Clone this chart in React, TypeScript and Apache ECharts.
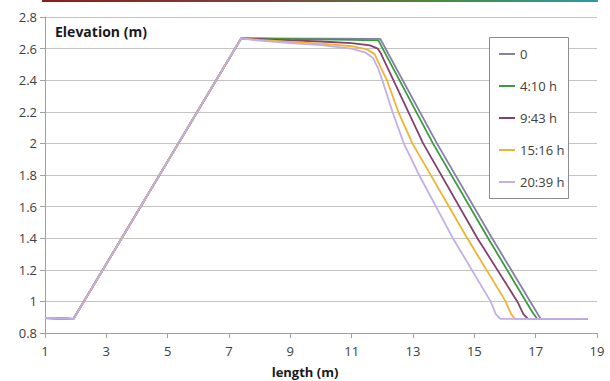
import React, { useEffect, useRef } from "react";
import * as echarts from "echarts";

const seriesNames = ["0", "4:10 h", "9:43 h", "15:16 h", "20:39 h"];
const seriesColors = ["#8282a6", "#3f9a3f", "#86406f", "#f0b432", "#c4aee8"];

const x0 = [1, 1.93, 7.4, 11.93, 13.78, 15.58, 17.16, 18.7];
const y0 = [0.895, 0.89, 2.665, 2.662, 2.0, 1.4, 0.89, 0.89];

const x1 = [1, 1.93, 7.4, 8.5, 10, 11.87, 13.65, 15.45, 16.9, 17.05, 18.7];
const y1 = [0.895, 0.89, 2.665, 2.662, 2.658, 2.652, 2.0, 1.4, 0.93, 0.89, 0.89];

const x2 = [1, 1.93, 7.4, 8, 9, 10, 11, 11.6, 11.85, 11.95, 13.33, 15.1, 16.4, 16.6, 16.75, 18.7];
const y2 = [0.895, 0.89, 2.665, 2.66, 2.652, 2.645, 2.635, 2.62, 2.6, 2.57, 2.0, 1.4, 1.0, 0.92, 0.89, 0.89];

const x3 = [1, 1.93, 7.4, 8, 9, 10, 11, 11.5, 11.75, 11.95, 12.15, 12.52, 12.98, 14.77, 16.02, 16.2, 16.32, 18.7];
const y3 = [0.895, 0.89, 2.665, 2.655, 2.642, 2.632, 2.615, 2.595, 2.565, 2.48, 2.4, 2.2, 2.0, 1.4, 1.0, 0.92, 0.89, 0.89];

const x4 = [1, 1.93, 7.4, 8, 9, 10, 11, 11.45, 11.7, 11.85, 12.0, 12.33, 12.7, 13.2, 14.3, 15.53, 15.7, 15.85, 18.7];
const y4 = [0.895, 0.89, 2.665, 2.65, 2.635, 2.622, 2.6, 2.575, 2.54, 2.48, 2.4, 2.2, 2.0, 1.8, 1.4, 1.0, 0.92, 0.89, 0.89];

const allX = [x0, x1, x2, x3, x4];
const allY = [y0, y1, y2, y3, y4];

const FONT = "Open Sans";

export default function App() {
  const ref = useRef<HTMLDivElement>(null);
  useEffect(() => {
    const chart = echarts.init(ref.current!, null, { renderer: "svg" });
    const series = seriesNames.map((name, i) => ({
      name,
      type: "line",
      data: allX[i].map((x, j) => [x, allY[i][j]]),
      symbol: "none",
      showSymbol: false,
      lineStyle: { color: seriesColors[i], width: 1.8 },
      itemStyle: { color: seriesColors[i] },
      z: 2 + i,
    }));
    chart.setOption({
      animation: false,
      backgroundColor: "#ffffff",
      textStyle: { fontFamily: FONT },
      grid: { left: 45, right: 13, top: 17, bottom: 48, containLabel: false },
      xAxis: {
        type: "value",
        min: 1,
        max: 19,
        interval: 2,
        axisLine: { show: true, lineStyle: { color: "#a0a0a0" } },
        axisTick: { show: true, length: 5, lineStyle: { color: "#a0a0a0" } },
        axisLabel: { color: "#404040", fontSize: 13, margin: 11, fontFamily: FONT },
        splitLine: { show: false },
      },
      yAxis: {
        type: "value",
        min: 0.8,
        max: 2.8,
        interval: 0.2,
        axisLine: { show: true, lineStyle: { color: "#a0a0a0" } },
        axisTick: { show: true, length: 5, lineStyle: { color: "#a0a0a0" } },
        axisLabel: { color: "#404040", fontSize: 13, margin: 8, fontFamily: FONT },
        splitLine: { show: true, lineStyle: { color: "#c4c4c4", width: 1 } },
      },
      legend: {
        orient: "vertical",
        left: 491,
        top: 38,
        padding: [9, 5, 8, 8],
        icon: "rect",
        itemWidth: 16,
        itemHeight: 2,
        itemGap: 18,
        z: 20,
        textStyle: { color: "#404040", fontSize: 13, lineHeight: 14, fontFamily: FONT },
        data: seriesNames,
      },
      graphic: [
        {
          type: "rect",
          z: 15,
          shape: { x: 489.5, y: 37.5, width: 79, height: 161 },
          style: { fill: "#ffffff", stroke: "#8c8c8c", lineWidth: 1 },
        },
        {
          type: "rect",
          z: 15,
          shape: { x: 42, y: 0, width: 556, height: 2 },
          style: {
            fill: new echarts.graphic.LinearGradient(0, 0, 1, 0, [
              { offset: 0, color: "#8a1d1d" },
              { offset: 0.45, color: "#7a4a3a" },
              { offset: 0.7, color: "#4a8a3a" },
              { offset: 1, color: "#2a9aa8" },
            ]),
          },
        },
        {
          type: "text",
          z: 15,
          left: 55,
          top: 24,
          style: {
            text: "Elevation (m)",
            font: `bold 14px "${FONT}"`,
            fill: "#1a1a1a",
          },
        },
        {
          type: "text",
          z: 15,
          left: "center",
          top: 365,
          style: {
            text: "length (m)",
            font: `bold 13px "${FONT}"`,
            fill: "#1a1a1a",
          },
        },
      ],
      series,
    });
    return () => chart.dispose();
  }, []);
  return <div ref={ref} style={{ width: 610, height: 381, position: "absolute", left: 0, top: 0 }} />;
}
